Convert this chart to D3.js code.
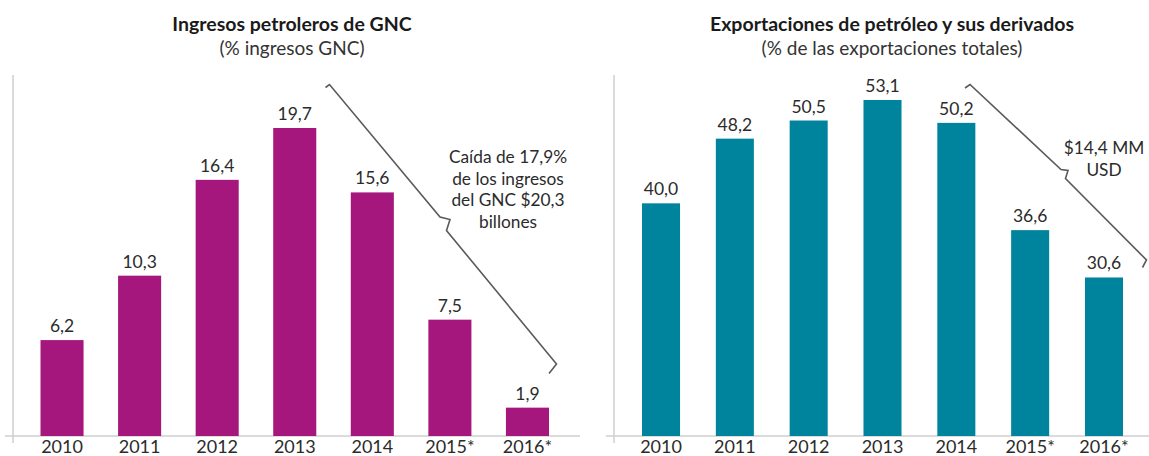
<!DOCTYPE html>
<html lang="es">
<head>
<meta charset="UTF-8">
<title>Ingresos y exportaciones petroleras</title>
<script src="https://d3js.org/d3.v7.min.js"></script>
<style>
    body { margin: 0; background: #fff; }
    svg text { font-family: Lato, "Open Sans", sans-serif; fill: #2b2b2b; }
    .title { font-weight: bold; font-size: 19.5px; fill: #1a1a1a; }
    .subtitle { font-size: 19px; fill: #333; }
    .val { font-size: 17.5px; text-anchor: middle; }
    .note { font-size: 17.3px; text-anchor: middle; }
</style>
</head>
<body>
<svg id="chart" width="1149" height="456"></svg>
<script>
    // data
    const years = ["2010", "2011", "2012", "2013", "2014", "2015*", "2016*"];
    const ingresos = [6.2, 10.3, 16.4, 19.7, 15.6, 7.5, 1.9];
    const exportaciones = [40.0, 48.2, 50.5, 53.1, 50.2, 36.6, 30.6];
    const noteLeft = ["Caída de 17,9%", "de los ingresos", "del GNC $20,3", "billones"];
    const noteRight = ["$14,4 MM", "USD"];

    const svg = d3.select("#chart");
    const fmt = v => v.toFixed(1).replace(".", ",");
    const baseY = 436;

    function panel(cfg) {
        const g = svg.append("g");

        const x = d3.scaleBand()
            .domain(years)
            .range(cfg.xRange)
            .paddingInner(cfg.pad)
            .paddingOuter(cfg.pad / 2);

        const y = d3.scaleLinear()
            .domain(cfg.yDomain)
            .range(cfg.yRange);

        // axis lines
        g.append("line")
            .attr("x1", cfg.axisX).attr("x2", cfg.axisX)
            .attr("y1", 75).attr("y2", 443)
            .attr("stroke", "#cfcfcf").attr("stroke-width", 1.5);
        g.append("line")
            .attr("x1", cfg.axisX - 8).attr("x2", cfg.axisEnd)
            .attr("y1", baseY).attr("y2", baseY)
            .attr("stroke", "#cfcfcf").attr("stroke-width", 1.5);

        // bars
        g.selectAll("rect.bar")
            .data(cfg.values)
            .join("rect")
            .attr("class", "bar")
            .attr("x", (d, i) => x(years[i]))
            .attr("width", x.bandwidth())
            .attr("y", d => y(d))
            .attr("height", d => baseY - y(d))
            .attr("fill", cfg.color);

        // value labels
        g.selectAll("text.val")
            .data(cfg.values)
            .join("text")
            .attr("class", "val")
            .attr("x", (d, i) => x(years[i]) + x.bandwidth() / 2)
            .attr("y", d => y(d) - 8)
            .text(fmt);

        // year labels
        const ax = g.append("g")
            .attr("transform", `translate(0,${baseY})`)
            .call(d3.axisBottom(x).tickSize(0).tickPadding(0));
        ax.select(".domain").remove();
        ax.selectAll("text")
            .attr("dy", null)
            .attr("y", 17)
            .style("font-size", "18px")
            .style("font-family", "Lato, 'Open Sans', sans-serif")
            .style("fill", "#2b2b2b");

        // titles
        g.append("text").attr("class", "title")
            .attr("x", cfg.titleX).attr("y", 31)
            .attr("text-anchor", "middle").text(cfg.title);
        g.append("text").attr("class", "subtitle")
            .attr("x", cfg.titleX).attr("y", 55)
            .attr("text-anchor", "middle").text(cfg.subtitle);

        // brace
        g.append("polyline")
            .attr("points", cfg.brace.map(p => p.join(",")).join(" "))
            .attr("fill", "none")
            .attr("stroke", "#5a5a5a")
            .attr("stroke-width", 1.6)
            .attr("stroke-linejoin", "miter");

        // annotation
        g.selectAll("text.note")
            .data(cfg.note)
            .join("text")
            .attr("class", "note")
            .attr("x", cfg.noteX)
            .attr("y", (d, i) => cfg.noteY + i * 21.7)
            .text(d => d);
    }

    panel({
        values: ingresos,
        color: "#a5177d",
        xRange: [23.25, 566.25],
        pad: 0.445,
        yDomain: [0, 19.7],
        yRange: [437.5, 128],
        axisX: 13,
        axisEnd: 580,
        titleX: 292,
        title: "Ingresos petroleros de GNC",
        subtitle: "(% ingresos GNC)",
        brace: [[325.5, 87.5], [329.5, 84.5], [440, 217], [450, 219.5], [446.5, 230.5], [556.5, 364], [549, 373.5]],
        note: noteLeft,
        noteX: 508,
        noteY: 163
    });

    panel({
        values: exportaciones,
        color: "#00839c",
        xRange: [624.1, 1140.9],
        pad: 0.485,
        yDomain: [10.5, 53.1],
        yRange: [436, 100],
        axisX: 614,
        axisEnd: 1149,
        titleX: 892,
        title: "Exportaciones de petróleo y sus derivados",
        subtitle: "(% de las exportaciones totales)",
        brace: [[965, 88], [970, 84.5], [1061, 169.5], [1068, 170.5], [1065.5, 178.5], [1146.5, 260], [1142.5, 267.5]],
        note: noteRight,
        noteX: 1104,
        noteY: 154
    });
</script>
</body>
</html>
